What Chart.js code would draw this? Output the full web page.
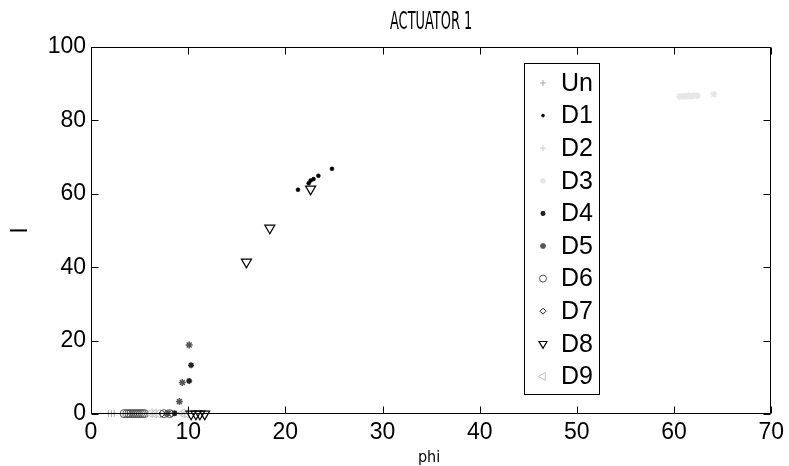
<!DOCTYPE html>
<html><head><meta charset="utf-8">
<style>html,body{margin:0;padding:0;background:#fff;}#wrap{width:789px;height:466px;}</style>
<script src="https://cdn.jsdelivr.net/npm/chart.js@4/dist/chart.umd.min.js"></script>
</head><body><div id="wrap"><canvas id="c" width="789" height="466"></canvas></div>
<script>
const chartTitle = 'ACTUATOR 1';
const xLabel = 'phi';
const yLabel = 'I';
const xTicks = [0, 10, 20, 30, 40, 50, 60, 70];
const yTicks = [0, 20, 40, 60, 80, 100];
const seriesNames = ['Un', 'D1', 'D2', 'D3', 'D4', 'D5', 'D6', 'D7', 'D8', 'D9'];

const unX = [1.8, 2.1, 2.4];
const unY = [0.2, 0.1, 0.2];
const d1X = [21.3, 22.4, 22.6, 22.9, 23.4, 24.8];
const d1Y = [61.1, 62.9, 63.6, 64.0, 64.9, 66.8];
const d2X = [5.9, 6.3, 6.7, 9.3, 9.6];
const d2Y = [0.1, 0.2, 0.1, 0.1, 0.2];
const d3X = [60.6, 60.9, 61.2, 61.5, 61.8, 62.1, 62.4, 64.1];
const d3Y = [86.5, 86.6, 86.5, 86.7, 86.6, 86.8, 86.7, 87.1];
const d4X = [10.3, 10.1, 8.6];
const d4Y = [13.3, 9.0, 0.2];
const d5X = [10.1, 9.4, 9.1, 7.9];
const d5Y = [18.8, 8.6, 3.4, 0.2];
const d6X = [3.4, 3.7, 3.9, 4.1, 4.3, 4.5, 4.7, 4.9, 5.1, 5.3, 5.5, 7.5, 8.1];
const d6Y = [0.1, 0.1, 0.1, 0.1, 0.1, 0.1, 0.1, 0.1, 0.1, 0.1, 0.1, 0.1, 0.1];
const d7X = [7.3, 7.8, 8.3];
const d7Y = [0.1, 0.1, 0.1];
const d8X = [16.0, 18.4, 22.6, 10.3, 10.8, 11.2, 11.7];
const d8Y = [41.4, 50.7, 61.3, 0, 0, 0, 0];
const d9X = [6.1, 6.5, 6.9, 9.4, 9.8];
const d9Y = [0.2, 0.1, 0.1, 0.2, 0.1];

const seriesX = [unX, d1X, d2X, d3X, d4X, d5X, d6X, d7X, d8X, d9X];
const seriesY = [unY, d1Y, d2Y, d3Y, d4Y, d5Y, d6Y, d7Y, d8Y, d9Y];

const styles = [
  {pointStyle: 'cross', r: 3.5, lr: 3, color: '#a8a8a8', fill: 'transparent', bw: 1, rot: 0},
  {pointStyle: 'circle', r: 2, lr: 1.5, color: '#000', fill: '#000', bw: 0.5, rot: 0},
  {pointStyle: 'cross', r: 3.5, lr: 3, color: '#cfcfcf', fill: 'transparent', bw: 1, rot: 0},
  {pointStyle: 'star', r: 3.5, lr: 3, color: '#e6e6e6', fill: 'transparent', bw: 1.5, rot: 0},
  {pointStyle: 'star', r: 3, lr: 2.5, color: '#222', fill: 'transparent', bw: 1.5, rot: 0},
  {pointStyle: 'star', r: 3.5, lr: 3, color: '#555', fill: 'transparent', bw: 1.5, rot: 0},
  {pointStyle: 'circle', r: 4, lr: 3.5, color: '#555', fill: 'transparent', bw: 1, rot: 0},
  {pointStyle: 'rectRot', r: 3.5, lr: 3, color: '#222', fill: 'transparent', bw: 1, rot: 0},
  {pointStyle: 'triangle', r: 5.8, lr: 4.6, color: '#000', fill: 'transparent', bw: 1.2, rot: 180},
  {pointStyle: 'triangle', r: 5, lr: 4.6, color: '#bdbdbd', fill: 'transparent', bw: 1, rot: -90}
];

const datasets = seriesNames.map((name, i) => ({
  label: name,
  data: seriesX[i].map((x, j) => ({x: x, y: seriesY[i][j]})),
  showLine: false,
  clip: false,
  pointStyle: styles[i].pointStyle,
  pointRadius: styles[i].r,
  pointHoverRadius: styles[i].r,
  pointBorderColor: styles[i].color,
  pointBackgroundColor: styles[i].fill,
  pointBorderWidth: styles[i].bw,
  pointRotation: styles[i].rot
}));

function drawMarker(ctx, st, x, y, r) {
  ctx.save();
  ctx.strokeStyle = st.color;
  ctx.fillStyle = st.fill;
  ctx.lineWidth = st.bw;
  if (Chart.helpers && Chart.helpers.drawPoint) {
    Chart.helpers.drawPoint(ctx, {pointStyle: st.pointStyle, radius: r, rotation: st.rot, borderWidth: st.bw}, x, y);
  } else {
    ctx.beginPath(); ctx.arc(x, y, r, 0, Math.PI * 2); ctx.fill(); ctx.stroke();
  }
  ctx.restore();
}

const framePlugin = {
  id: 'frame',
  afterDatasetsDraw(chart) {
    const ctx = chart.ctx, a = chart.chartArea;
    const xs = chart.scales.x, ys = chart.scales.y;
    const L = Math.round(a.left) + 0.5, R = Math.round(a.right) - 0.5;
    const T = Math.round(a.top) + 0.5, B = Math.round(a.bottom) - 0.5;
    ctx.save();
    ctx.strokeStyle = '#000';
    ctx.lineWidth = 1;
    ctx.beginPath();
    ctx.rect(L, T, R - L, B - T);
    const tl = 7;
    xTicks.forEach(v => {
      const px = Math.round(xs.getPixelForValue(v)) + 0.5;
      ctx.moveTo(px, B); ctx.lineTo(px, B - tl);
      ctx.moveTo(px, T); ctx.lineTo(px, T + tl);
    });
    yTicks.forEach(v => {
      const py = Math.round(ys.getPixelForValue(v)) + 0.5;
      ctx.moveTo(L, py); ctx.lineTo(L + tl, py);
      ctx.moveTo(R, py); ctx.lineTo(R - tl, py);
    });
    ctx.stroke();

    // legend box
    const lx = 524.5, ly = 63.5, lw = 75, lh = 331;
    ctx.fillStyle = '#fff';
    ctx.fillRect(lx, ly, lw, lh);
    ctx.strokeRect(lx, ly, lw, lh);
    ctx.font = '25px "Liberation Sans", Arial, sans-serif';
    ctx.textBaseline = 'middle';
    ctx.textAlign = 'left';
    seriesNames.forEach((name, i) => {
      const yy = 83 + i * 32.6;
      drawMarker(ctx, styles[i], 543, yy, styles[i].lr);
      ctx.fillStyle = '#000';
      ctx.fillText(name, 561, yy + 1);
    });
    ctx.restore();
  },
  afterDraw(chart) {
    const ctx = chart.ctx, a = chart.chartArea;
    const cx = (a.left + a.right) / 2;
    ctx.save();
    ctx.fillStyle = '#000';
    ctx.textAlign = 'center';
    ctx.textBaseline = 'alphabetic';
    ctx.save();
    ctx.translate(cx, 28.5);
    ctx.scale(0.6, 1);
    ctx.font = '24px "Liberation Sans Narrow", "DejaVu Sans Condensed", sans-serif';
    ctx.fillText(chartTitle, 0, 0);
    ctx.restore();
    ctx.font = '16px "Liberation Sans Narrow", "DejaVu Sans Condensed", sans-serif';
    ctx.fillText(xLabel, cx - 2, 462);
    ctx.restore();
  }
};

new Chart(document.getElementById('c'), {
  type: 'scatter',
  data: {datasets: datasets},
  options: {
    responsive: false,
    devicePixelRatio: 1,
    animation: false,
    layout: {padding: {top: 47, right: 16, left: 0, bottom: 0}},
    plugins: {legend: {display: false}, tooltip: {enabled: false}, title: {display: false}},
    events: [],
    scales: {
      x: {
        type: 'linear', min: 0, max: 70,
        afterBuildTicks: s => { s.ticks = xTicks.map(v => ({value: v})); },
        afterFit: s => { s.height = 52; },
        grid: {display: false, drawTicks: false},
        border: {display: false},
        ticks: {color: '#000', padding: 5, maxRotation: 0, autoSkip: false,
                font: {family: '"Liberation Sans", Arial, sans-serif', size: 23}}
      },
      y: {
        type: 'linear', min: 0, max: 100,
        afterBuildTicks: s => { s.ticks = yTicks.map(v => ({value: v})); },
        afterFit: s => { s.width = 91; },
        grid: {display: false, drawTicks: false},
        border: {display: false},
        title: {display: true, text: yLabel, color: '#000', padding: {top: 7, bottom: 0},
                font: {family: '"Liberation Sans Narrow", "DejaVu Sans Condensed", sans-serif', size: 23}},
        ticks: {color: '#000', padding: 5, autoSkip: false,
                font: {family: '"Liberation Sans", Arial, sans-serif', size: 23}}
      }
    }
  },
  plugins: [framePlugin]
});
</script></body></html>
